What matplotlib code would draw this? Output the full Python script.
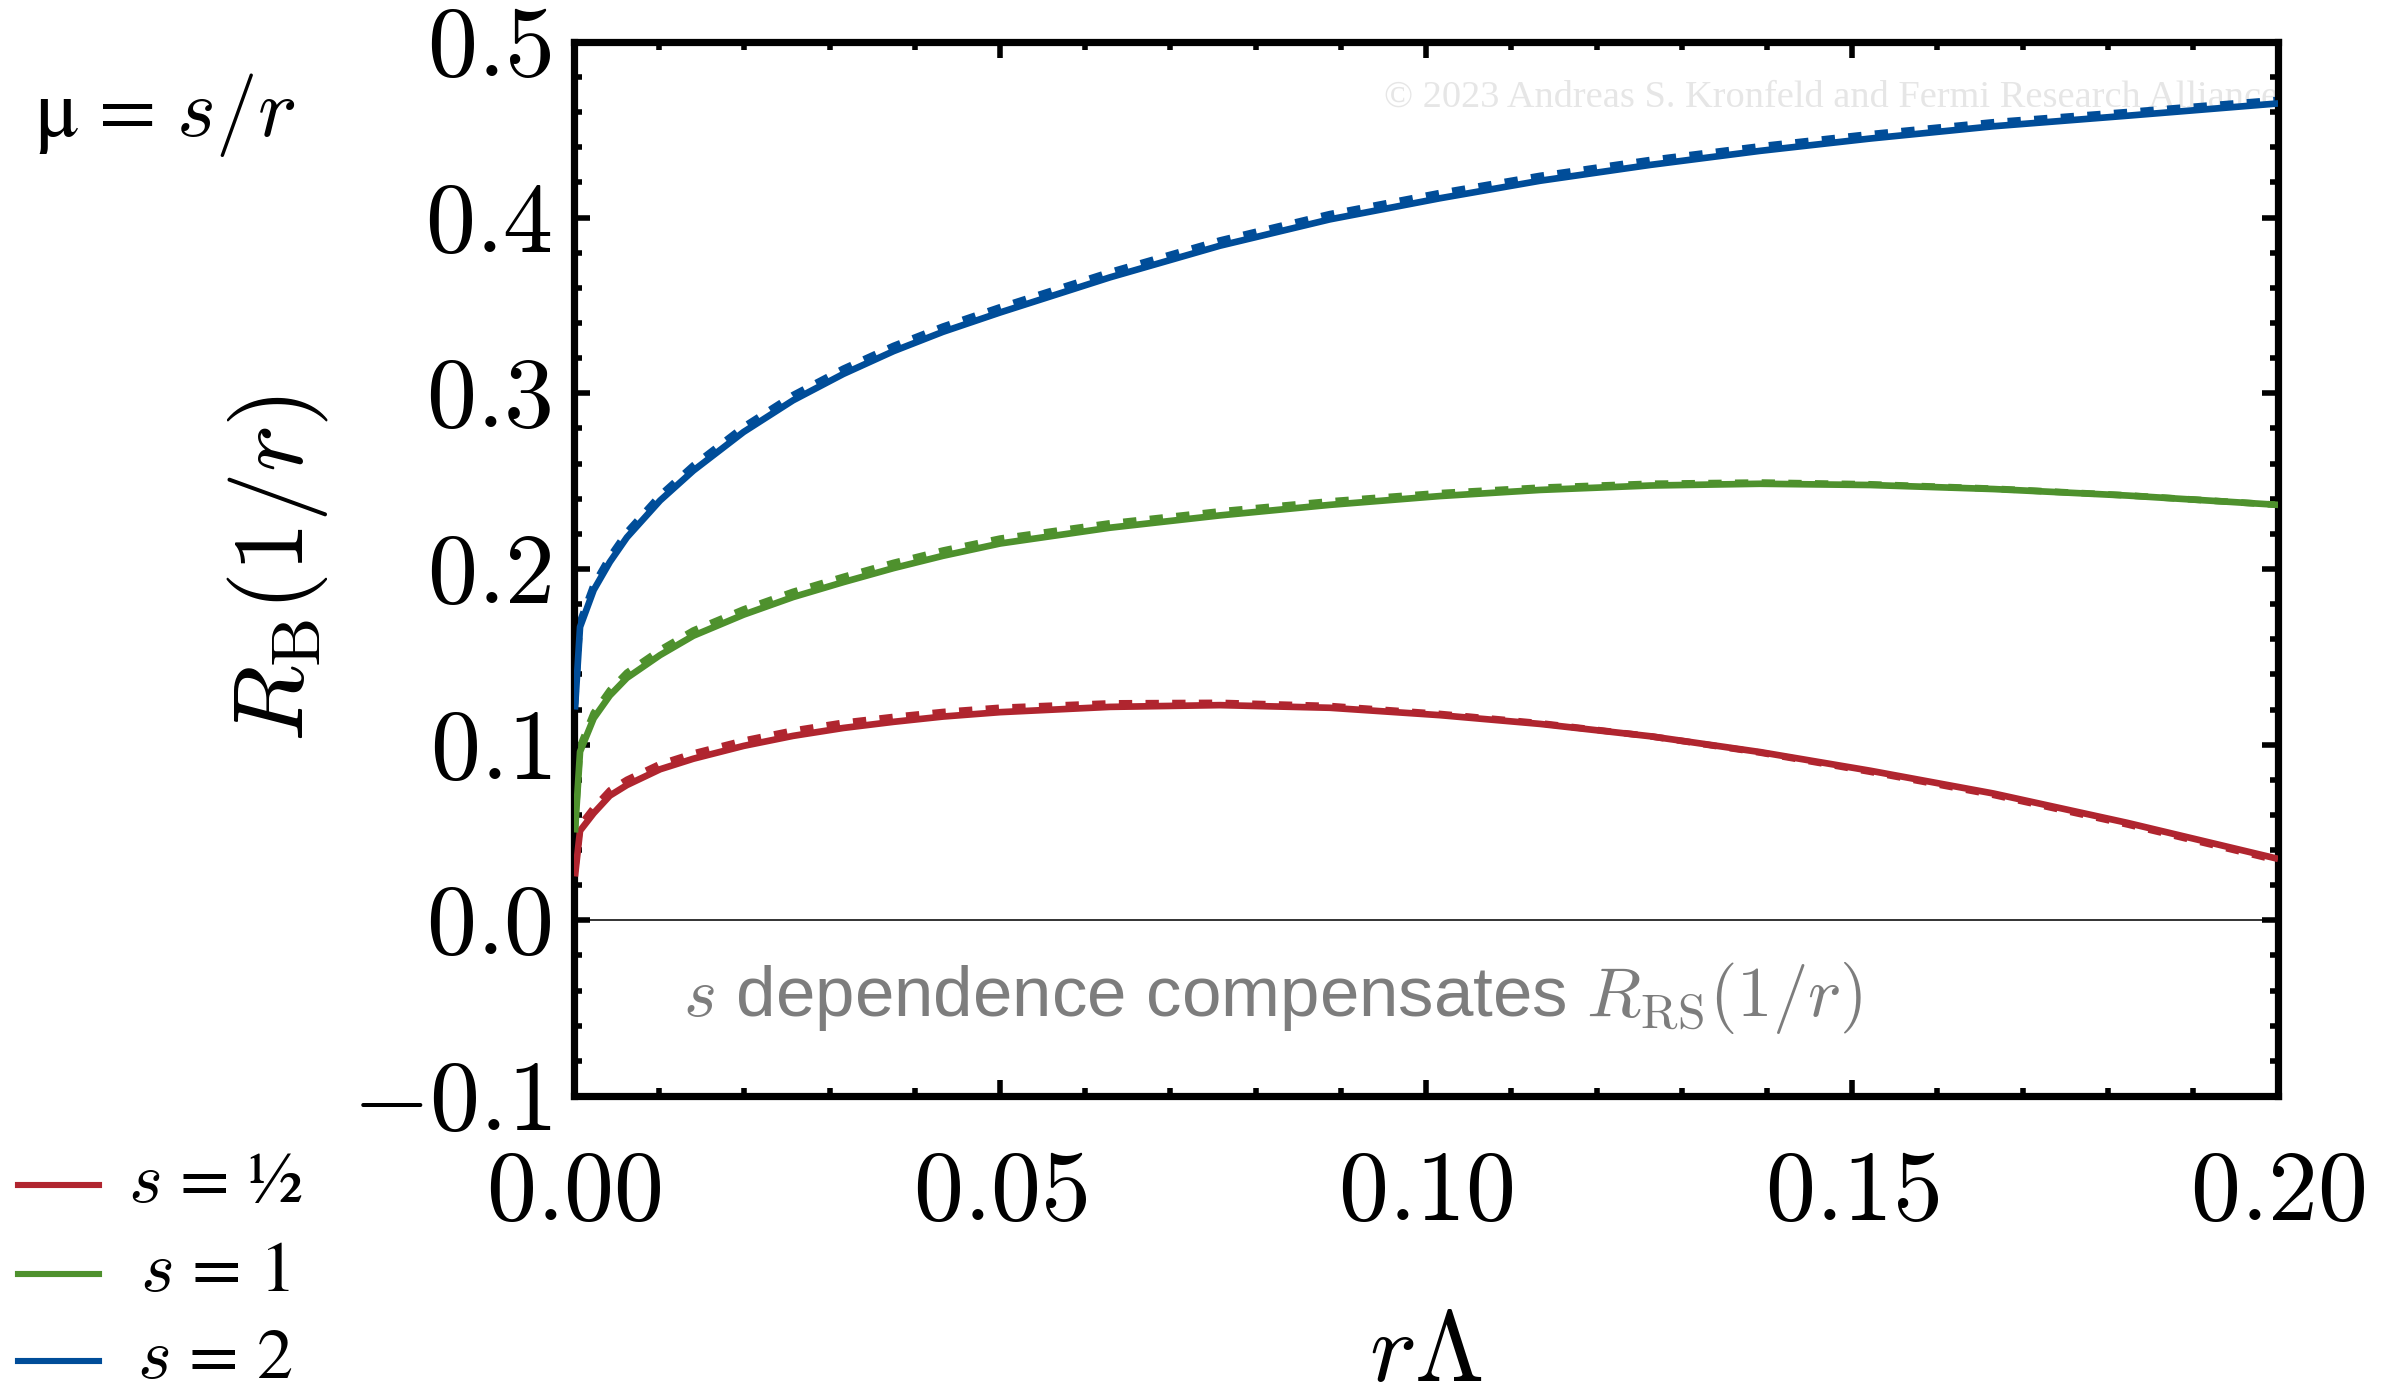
import matplotlib
matplotlib.use("Agg")
from matplotlib import pyplot as plt
from matplotlib.ticker import MultipleLocator, FuncFormatter
from matplotlib.lines import Line2D

plt.rcParams["mathtext.fontset"] = "cm"
plt.rcParams["font.family"] = ["STIXGeneral", "DejaVu Sans"]

# r*Lambda grid
rLam = [0.0001, 0.0007, 0.0023, 0.0042, 0.0062, 0.0101, 0.014, 0.0199, 0.0257, 0.0316,
        0.0375, 0.0433, 0.05, 0.0629, 0.0758, 0.0887, 0.1016, 0.1134, 0.1263, 0.1392,
        0.1521, 0.1666, 0.1823, 0.2]

# solid curves
red_solid = [0.025, 0.051, 0.061, 0.071, 0.077, 0.086, 0.092, 0.0993, 0.105, 0.1095,
             0.113, 0.116, 0.1185, 0.1215, 0.1225, 0.121, 0.1168, 0.1118, 0.1048, 0.0958,
             0.0852, 0.0722, 0.0555, 0.035]
green_solid = [0.05, 0.096, 0.115, 0.128, 0.138, 0.151, 0.162, 0.174, 0.184, 0.1925,
               0.2005, 0.2075, 0.2145, 0.2235, 0.2305, 0.2365, 0.2415, 0.245, 0.2475, 0.2485,
               0.2478, 0.2455, 0.2418, 0.2365]
blue_solid = [0.12, 0.167, 0.188, 0.204, 0.218, 0.239, 0.256, 0.278, 0.296, 0.311,
              0.324, 0.335, 0.346, 0.366, 0.384, 0.399, 0.411, 0.421, 0.43, 0.438,
              0.445, 0.452, 0.458, 0.465]

# dashed curves (sit just above the solid ones)
red_dash = [0.028, 0.054, 0.064, 0.074, 0.080, 0.089, 0.095, 0.1023, 0.108, 0.1125,
            0.1158, 0.1186, 0.121, 0.1235, 0.1238, 0.122, 0.1175, 0.1122, 0.1048, 0.0955,
            0.0846, 0.0714, 0.0546, 0.034]
green_dash = [0.053, 0.099, 0.118, 0.131, 0.141, 0.154, 0.165, 0.177, 0.187, 0.1955,
              0.2035, 0.2105, 0.2173, 0.226, 0.2328, 0.2385, 0.2432, 0.2463, 0.2485, 0.2492,
              0.2482, 0.2457, 0.2419, 0.2365]
blue_dash = [0.123, 0.170, 0.191, 0.207, 0.221, 0.242, 0.259, 0.281, 0.299, 0.314,
             0.327, 0.338, 0.349, 0.369, 0.387, 0.402, 0.414, 0.4238, 0.4328, 0.4406,
             0.4475, 0.4543, 0.4601, 0.467]

labels = [r"$s$ = ½", r"$s$ = 1", r"$s$ = 2"]
colors = ["#b0252f", "#4e912d", "#004d99"]

fig = plt.figure(figsize=(11.975, 6.99), dpi=200)
ax = fig.add_axes([0.2397, 0.2160, 0.7115, 0.754])

lw = 2.4
for ys, c in zip([red_dash, green_dash, blue_dash], colors):
    ax.plot(rLam, ys, color=c, lw=lw, dashes=(2.0, 2.0), dash_capstyle="butt", zorder=2)
for ys, c in zip([red_solid, green_solid, blue_solid], colors):
    ax.plot(rLam, ys, color=c, lw=lw, zorder=3, solid_capstyle="butt")

ax.axhline(0, color="#333333", lw=0.7, zorder=1)

ax.set_xlim(0, 0.2)
ax.set_ylim(-0.1, 0.5)
ax.xaxis.set_major_locator(MultipleLocator(0.05))
ax.xaxis.set_minor_locator(MultipleLocator(0.01))
ax.yaxis.set_major_locator(MultipleLocator(0.1))
ax.yaxis.set_minor_locator(MultipleLocator(0.02))

def xfmt(v, pos):
    return r"$%.2f$" % v

def yfmt(v, pos):
    if abs(v) < 1e-9:
        v = 0.0
    return r"$%.1f$" % v

ax.xaxis.set_major_formatter(FuncFormatter(xfmt))
ax.yaxis.set_major_formatter(FuncFormatter(yfmt))
ax.tick_params(which="both", direction="in", top=True, right=True, width=2.0, labelsize=36)
ax.tick_params(which="major", length=5.8)
ax.tick_params(which="minor", length=2.9)
ax.tick_params(axis="x", pad=20)
ax.tick_params(axis="y", pad=8)
for sp in ax.spines.values():
    sp.set_linewidth(2.6)

ax.set_xlabel(r"$r\Lambda$", fontsize=36, va="center")
ax.xaxis.set_label_coords(0.5, -0.248)
ax.set_ylabel(r"$R_{\mathrm{B}}(1/r)$", fontsize=36, va="center")
ax.yaxis.set_label_coords(-0.1737, 0.5)

ax.text(0.0128, -0.0546, r"$s$ dependence compensates $R_{\mathrm{RS}}(1/r)$",
        fontsize=25.5, color="#7d7d7d", family=["Liberation Sans", "DejaVu Sans"],
        ha="left", va="baseline")

ax.text(0.095, 0.4687, "© 2023 Andreas S. Kronfeld and Fermi Research Alliance, LLC",
        fontsize=13.8, color="#e6e6e6", family=["Liberation Serif", "DejaVu Serif"],
        ha="left", va="center", clip_on=True, zorder=1)

fig.text(0.0142, 0.9027, r"μ = $s/r$", fontsize=30, ha="left", va="baseline")

for yy, c, lab in zip([0.1524, 0.0887, 0.0265], colors, labels):
    fig.add_artist(Line2D([0.0075, 0.0415], [yy, yy], transform=fig.transFigure,
                          color=c, lw=2.2))
    fig.text(0.0899, yy, lab, fontsize=26, ha="center", va="center")

fig.savefig("out.png", dpi=200)
